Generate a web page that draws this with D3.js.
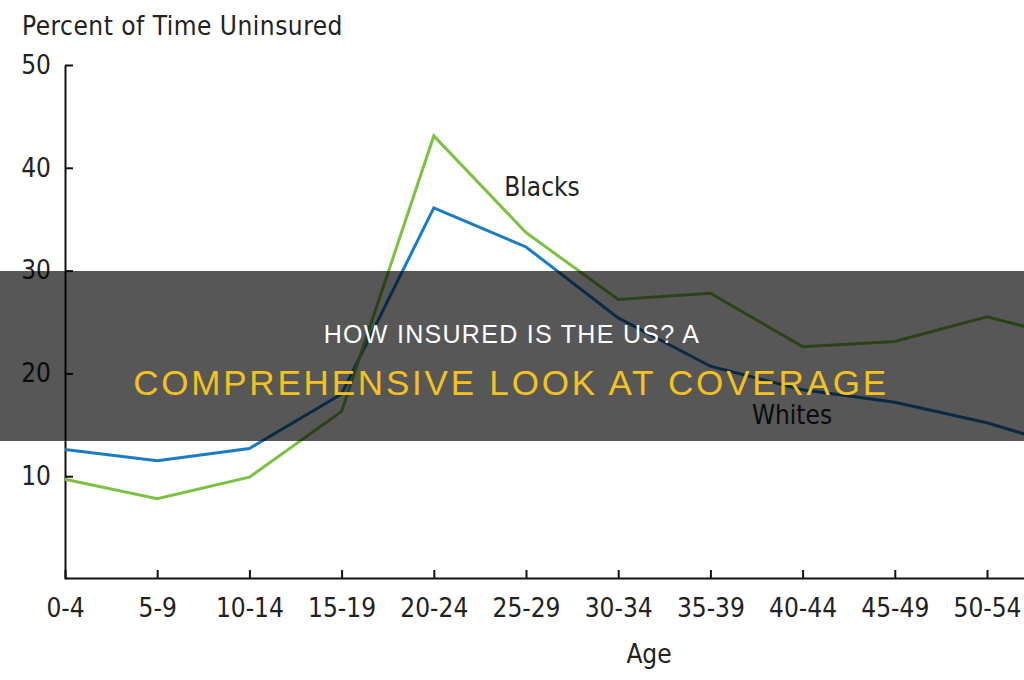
<!DOCTYPE html>
<html>
<head>
<meta charset="utf-8">
<script src="https://cdn.jsdelivr.net/npm/d3@7"></script>
<style>
  body { margin: 0; background: #fff; }
  svg { display: block; }
  .axis text { font-family: "DejaVu Sans Condensed", "DejaVu Sans", sans-serif; font-size: 26px; fill: #222; }
  .axis path, .axis line { stroke: #111; stroke-width: 2px; }
  .lbl { font-family: "DejaVu Sans Condensed", "DejaVu Sans", sans-serif; font-size: 26px; fill: #222; }
</style>
</head>
<body>
<svg id="chart" width="1024" height="680"></svg>
<script>
// age groups (last one runs off the right edge)
const ages = ["0-4", "5-9", "10-14", "15-19", "20-24", "25-29", "30-34", "35-39", "40-44", "45-49", "50-54", "55-59"];
const whites = [12.6, 11.5, 12.7, 18.0, 36.1, 32.3, 25.4, 20.7, 18.4, 17.2, 15.2, 12.5];
const blacks = [9.7, 7.8, 9.9, 16.3, 43.1, 33.7, 27.2, 27.8, 22.6, 23.1, 25.5, 23.2];
const yTicks = [10, 20, 30, 40, 50];
const shownAges = ages.slice(0, 11);

const svg = d3.select("#chart");

const x = d3.scalePoint().domain(ages).range([65, 65 + 11 * 92.2]);
const y = d3.scaleLinear().domain([0, 50]).range([579, 65]);

// y axis, ticks pointing inward
svg.append("g")
  .attr("class", "axis")
  .attr("transform", "translate(65,0)")
  .call(d3.axisLeft(y).tickValues(yTicks).tickSize(-8).tickSizeOuter(0).tickPadding(14));

// x axis
svg.append("g")
  .attr("class", "axis")
  .attr("transform", "translate(0,578)")
  .call(d3.axisBottom(x).tickValues(shownAges).tickSize(-8).tickSizeOuter(0).tickPadding(21));

svg.selectAll(".axis .domain").attr("stroke-width", 2.5);

const line = d3.line()
  .x((d, i) => x(ages[i]))
  .y(d => y(d));

svg.append("path")
  .datum(whites)
  .attr("fill", "none")
  .attr("stroke", "#1a7dc3")
  .attr("stroke-width", 3)
  .attr("d", line);

svg.append("path")
  .datum(blacks)
  .attr("fill", "none")
  .attr("stroke", "#7cc242")
  .attr("stroke-width", 3)
  .attr("d", line);

// labels
svg.append("text").attr("class", "lbl").attr("x", 22).attr("y", 35)
  .style("letter-spacing", "0.5px").text("Percent of Time Uninsured");
svg.append("text").attr("class", "lbl").attr("x", 542).attr("y", 196).attr("text-anchor", "middle").text("Blacks");
svg.append("text").attr("class", "lbl").attr("x", 792).attr("y", 424).attr("text-anchor", "middle").text("Whites");
svg.append("text").attr("class", "lbl").attr("x", 649).attr("y", 663).attr("text-anchor", "middle").text("Age");

// dark title band on top
svg.append("rect")
  .attr("x", 0).attr("y", 271)
  .attr("width", 1024).attr("height", 170)
  .attr("fill", "#000").attr("fill-opacity", 0.66);

svg.append("text")
  .attr("x", 512).attr("y", 343)
  .attr("text-anchor", "middle")
  .style("font-family", "'Liberation Sans', Arial, sans-serif")
  .style("font-size", "25px")
  .style("letter-spacing", "1.3px")
  .attr("fill", "#fff")
  .text("HOW INSURED IS THE US? A");

svg.append("text")
  .attr("x", 511).attr("y", 395)
  .attr("text-anchor", "middle")
  .style("font-family", "'Liberation Sans', Arial, sans-serif")
  .style("font-size", "35px")
  .style("letter-spacing", "2.8px")
  .attr("fill", "#f4c21f")
  .text("COMPREHENSIVE LOOK AT COVERAGE");
</script>
</body>
</html>
